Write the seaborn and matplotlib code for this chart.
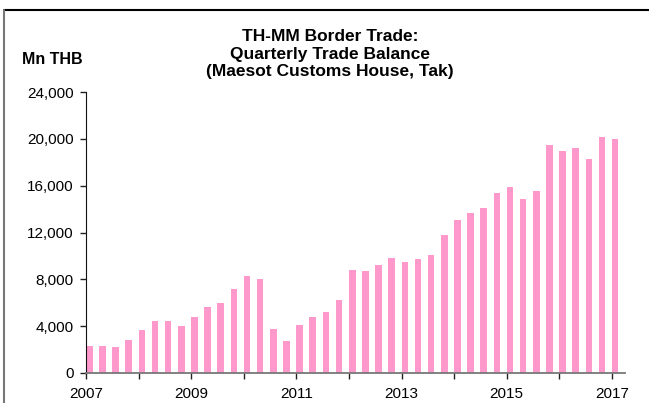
import numpy as np
import pandas as pd
import matplotlib
matplotlib.use("Agg")
import matplotlib.pyplot as plt
from matplotlib.ticker import FuncFormatter
from matplotlib.lines import Line2D
import seaborn as sns

# quarterly trade balance, Mn THB, 2007Q1 .. 2017Q1
years = list(range(2007, 2018))
quarters = [f"{y}Q{q}" for y in years for q in range(1, 5)][:41]
balance = [2300, 2300, 2250, 2800,
           3650, 4400, 4450, 4000,
           4750, 5650, 6000, 7200,
           8300, 8000, 3800, 2750,
           4100, 4800, 5200, 6200,
           8800, 8700, 9200, 9850,
           9450, 9700, 10100, 11800,
           13050, 13650, 14100, 15350,
           15900, 14850, 15550, 19500,
           18950, 19200, 18300, 20150,
           19950]
year_labels = [str(y) if y % 2 == 1 else "" for y in years]
y_ticks = [0, 4000, 8000, 12000, 16000, 20000, 24000]

df = pd.DataFrame({"quarter": quarters, "balance": balance})

sns.set_style("white")
plt.rcParams["font.family"] = ["Liberation Sans", "DejaVu Sans"]
plt.rcParams["text.color"] = "black"
plt.rcParams["xtick.color"] = "black"
plt.rcParams["ytick.color"] = "black"

fig = plt.figure(figsize=(6.49, 4.03), dpi=100)
ax = fig.add_axes([86 / 649, 30 / 403, 539 / 649, 281 / 403])

bw = 0.5
sns.barplot(data=df, x="quarter", y="balance", color="#FF99CC",
            saturation=1, width=bw, linewidth=0, ax=ax)

# excel puts the bar's left edge on the period start
for p in ax.patches:
    p.set_x(p.get_x() + bw / 2)

ax.set_xlim(0, 41)
ax.set_xticks(np.arange(0, 41, 4))
ax.set_xticklabels(year_labels, fontsize=11)
ax.set_ylim(0, 24000)
ax.set_yticks(y_ticks)
ax.yaxis.set_major_formatter(FuncFormatter(lambda v, _: f"{v:,.0f}"))
ax.tick_params(axis="y", labelsize=11, length=4, width=1, color="#222222",
               left=True, pad=5)
ax.tick_params(axis="x", length=4, width=1, color="#222222", bottom=True, pad=6)
ax.set_xlabel("")
ax.set_ylabel("")

sns.despine(ax=ax)
ax.spines["left"].set_color("#111111")
ax.spines["bottom"].set_color("#777777")
ax.spines["bottom"].set_linewidth(1.3)

fig.text(330 / 649, 1 - 54 / 403,
         "TH-MM Border Trade:\nQuarterly Trade Balance\n(Maesot Customs House, Tak)",
         ha="center", va="center", fontsize=12.5, fontweight="bold",
         linespacing=1.2)
fig.text(52 / 649, 1 - 59 / 403, "Mn THB", ha="center", va="center",
         fontsize=11.5, fontweight="bold")

# outer frame
fig.add_artist(Line2D([3.5 / 649, 1], [1 - 9.5 / 403, 1 - 9.5 / 403],
                      color="black", lw=1.5, transform=fig.transFigure))
fig.add_artist(Line2D([3.5 / 649, 3.5 / 649], [0, 1 - 9.5 / 403],
                      color="#777777", lw=1.5, transform=fig.transFigure))

fig.savefig("out.png", dpi=100)
